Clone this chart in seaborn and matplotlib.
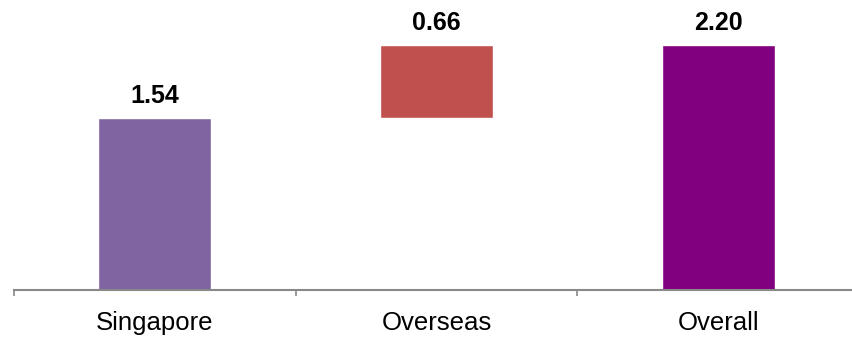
import matplotlib
matplotlib.use("Agg")
import matplotlib.pyplot as plt
import seaborn as sns
import pandas as pd

# Veri
categories = ["Singapore", "Overseas", "Overall"]
values = [1.54, 0.66, 2.20]
bases = [0.0, 1.54, 0.0]
colors = ["#8064A2", "#C0504D", "#800080"]

df = pd.DataFrame({"cat": categories, "val": values, "base": bases})
df["top"] = df["base"] + df["val"]

sns.set_theme(style="white")
plt.rcParams["font.family"] = ["Liberation Sans", "DejaVu Sans"]

fig = plt.figure(figsize=(8.52, 3.39), dpi=100)
ax = fig.add_axes([14 / 852, 1 - 290 / 339, 845 / 852, 290 / 339])

sns.barplot(data=df, x="cat", y="top", hue="cat", palette=colors,
            width=0.4, legend=False, ax=ax, saturation=1)

# şelale: yüzen çubuk + değer etiketleri
for patch, b, v in zip(ax.patches, df["base"], df["val"]):
    patch.set_y(b)
    patch.set_height(v)
    ax.text(patch.get_x() + patch.get_width() / 2, b + v + 0.135, f"{v:.2f}",
            ha="center", va="baseline", fontsize=18, fontweight="bold", color="black")

ax.set_ylim(0, 2.60)
ax.set_xlim(-0.5, 2.5)
ax.set_xticks([-0.5, 0.5, 1.5, 2.5])
ax.set_xticklabels([])
ax.set_xticks([0, 1, 2], minor=True)
ax.set_xticklabels(categories, minor=True, fontsize=18.5, color="black")
ax.tick_params(axis="x", which="minor", bottom=True, length=0, pad=15)
ax.tick_params(axis="x", which="major", bottom=True, length=4.5, width=1.2,
               color="#898989", direction="out")
ax.set_yticks([])
ax.set_xlabel("")
ax.set_ylabel("")
for s in ["top", "right", "left"]:
    ax.spines[s].set_visible(False)
ax.spines["bottom"].set_color("#898989")
ax.spines["bottom"].set_linewidth(1.5)

fig.savefig("out.png", dpi=100)
